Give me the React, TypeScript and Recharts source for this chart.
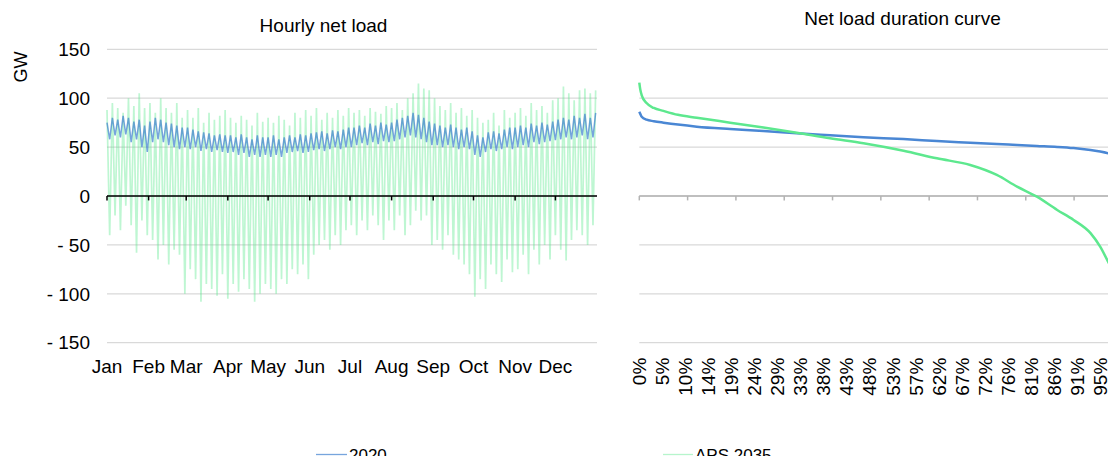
import { LineChart, Line, XAxis, YAxis, CartesianGrid, ReferenceLine } from "recharts";

const FONT = '"Liberation Sans", Arial, sans-serif';

const BLUE = "#4a87d4";
const GREEN = "#5de88e";

// --- hourly net load (one reading every 48 h, alternating daily peak / trough)
const months = ["Jan", "Feb", "Mar", "Apr", "May", "Jun", "Jul", "Aug", "Sep", "Oct", "Nov", "Dec"];
const monthStartHours = [0, 744, 1416, 2160, 2880, 3624, 4344, 5088, 5832, 6552, 7296, 8016];
const stepHours = 48;

const aps2035Hourly = [
  // Jan
  88, -40, 95, -20, 90, -35, 85, -10, 100, -30, 92, -58, 105, -25, 90, -40,
  // Feb
  95, -45, 85, -65, 100, -50, 90, -70, 85, -55, 95, -60, 80, -100,
  // Mar
  88, -75, 80, -85, 90, -108, 75, -90, 85, -95, 78, -102, 82, -80, 88,
  // Apr
  -105, 80, -90, 75, -98, 82, -85, 78, -95, 72, -108, 85, -100, 76, -90,
  // May
  80, -95, 75, -100, 82, -85, 78, -90, 72, -75, 85, -80, 80, -70, 88, -85,
  // Jun
  82, -60, 90, -50, 78, -45, 85, -55, 80, -40, 88, -50, 82, -35, 90,
  // Jul
  -30, 85, -40, 88, -25, 82, -35, 90, -20, 86, -30, 84, -45, 92, -25,
  // Aug
  90, -35, 95, -20, 88, -40, 100, -30, 105, -15, 115, -25, 110, -20, 108, -50,
  // Sep
  100, -45, 92, -55, 88, -40, 95, -60, 85, -65, 90, -70, 82, -80, 88,
  // Oct
  -103, 80, -85, 75, -95, 78, -70, 85, -80, 72, -88, 88, -65, 80, -78,
  // Nov
  85, -75, 90, -60, 82, -80, 95, -55, 88, -70, 92, -50, 85, -65, 98,
  // Dec
  -40, 100, -55, 112, -66, 105, -45, 98, -35, 108, -40, 110, -50, 105, -30, 108,
];

const net2020Hourly = [
  75, 58, 80, 62, 78, 60, 82, 63, 80, 55, 76, 58, 78, 50, 72, 45,
  76, 55, 80, 58, 78, 55, 75, 52, 74, 50, 72, 48, 70, 50,
  70, 48, 68, 50, 66, 46, 65, 48, 64, 45, 62, 47, 63, 45, 62,
  44, 62, 45, 60, 42, 63, 44, 60, 40, 58, 42, 62, 40, 60, 42,
  60, 40, 62, 42, 58, 40, 60, 44, 62, 45, 60, 46, 63, 44, 62, 45,
  64, 47, 65, 48, 66, 46, 64, 48, 67, 50, 66, 48, 68, 50, 70,
  50, 70, 52, 72, 54, 70, 52, 74, 55, 72, 53, 75, 56, 73, 55,
  75, 56, 78, 58, 80, 60, 82, 62, 85, 60, 83, 58, 80, 55, 76, 52,
  74, 52, 72, 50, 70, 52, 73, 50, 70, 48, 68, 50, 70, 48, 66,
  42, 62, 40, 60, 45, 65, 48, 66, 46, 64, 48, 68, 50, 70, 48,
  70, 50, 72, 52, 70, 50, 74, 55, 72, 53, 75, 55, 73, 56, 76,
  57, 78, 58, 80, 60, 78, 58, 82, 60, 80, 62, 84, 58, 80, 60, 85,
];

// --- duration curve (share of hours, sorted)
const durationPct = [0, 0.2, 0.5, 1.5, 3, 5, 8, 11.9, 18.8, 25.7, 32.6, 39.5, 46.4, 54.7, 61.6, 68.5, 74, 78.2, 82.3, 86.5, 89.9, 93.4, 95.4, 97.2, 98.8, 99.5, 100];
const apsDuration = [116, 109, 103, 95, 90, 87, 83, 80, 75, 70, 64.7, 59, 54, 46.3, 38.5, 31.7, 21.5, 9.5, -0.7, -14.3, -24.5, -38, -51.8, -68.8, -84, -96, -112];
const duration2020 = [86.2, 84, 81, 78, 76.5, 75, 73, 70.9, 68.5, 66.5, 64.1, 62, 60, 58.2, 56.2, 54.5, 53.2, 52.2, 51.2, 50.2, 49, 47, 45.5, 43.5, 40.9, 39, 36];

const pctLabels = ["0%", "5%", "10%", "14%", "19%", "24%", "29%", "33%", "38%", "43%", "48%", "53%", "57%", "62%", "67%", "72%", "76%", "81%", "86%", "91%", "95%"];
const pctTicks = pctLabels.map((_, i) => (i * 418 * 100) / 8760);
const pctMinorTicks = [0, 10, 20, 30, 40, 50, 60, 70, 80, 90, 100];

const yTicks = [-150, -100, -50, 0, 50, 100, 150];

const hourlyData = aps2035Hourly.map((v, i) => ({ h: i * stepHours, aps: v, y2020: net2020Hourly[i] }));
const durationData = durationPct.map((p, i) => ({ p, aps: apsDuration[i], y2020: duration2020[i] }));

const fmtGW = (v: number) => (v < 0 ? `- ${Math.abs(v)}` : `${v}`);

const PctTick = (props: any) => {
  const { x, y, index } = props;
  return (
    <text x={x} y={y} transform={`rotate(-90 ${x} ${y})`} textAnchor="end" dy="0.35em" fontSize={19} fill="#000" fontFamily={FONT}>
      {pctLabels[index]}
    </text>
  );
};

const tickStyle = { fontSize: 19, fill: "#000", fontFamily: FONT };

export default function App() {
  return (
    <div style={{ position: "relative", width: 1116, height: 464, margin: -8, overflow: "hidden", background: "#fff", fontFamily: FONT }}>
      <div style={{ position: "absolute", left: 0, top: 0 }}>
        <LineChart width={600} height={464} data={hourlyData} margin={{ top: 49.3, right: 3, bottom: 91.3, left: 0 }}>
          <CartesianGrid vertical={false} stroke="#d9d9d9" strokeWidth={1.3} />
          <XAxis
            type="number"
            dataKey="h"
            domain={[0, 8760]}
            ticks={monthStartHours}
            interval={0}
            tickFormatter={(v) => months[monthStartHours.indexOf(v)]}
            axisLine={false}
            tickLine={false}
            tickSize={0}
            tickMargin={17}
            height={30}
            tick={tickStyle}
          />
          <YAxis
            type="number"
            domain={[-150, 150]}
            ticks={yTicks}
            interval={0}
            tickFormatter={fmtGW}
            axisLine={false}
            tickLine={false}
            tickSize={0}
            tickMargin={17}
            width={107}
            tick={tickStyle}
          />
          <Line type="linear" dataKey="aps" stroke={GREEN} strokeOpacity={0.4} strokeWidth={1.7} dot={false} isAnimationActive={false} />
          <Line type="linear" dataKey="y2020" stroke="#3d7fcf" strokeOpacity={0.7} strokeWidth={1.5} dot={false} isAnimationActive={false} />
          <ReferenceLine y={0} stroke="#000" strokeWidth={1.5} />
          {monthStartHours.map((h) => (
            <ReferenceLine key={h} segment={[{ x: h, y: 0 }, { x: h, y: -4.5 }]} stroke="#000" strokeWidth={1.5} />
          ))}
        </LineChart>
      </div>

      <div style={{ position: "absolute", left: 600, top: 0 }}>
        <LineChart width={530} height={464} data={durationData} margin={{ top: 49.3, right: 7.6, bottom: 91.3, left: 39.3 }}>
          <CartesianGrid vertical={false} stroke="#d9d9d9" strokeWidth={1.3} />
          <XAxis
            type="number"
            dataKey="p"
            domain={[0, 100]}
            ticks={pctTicks}
            interval={0}
            axisLine={false}
            tickLine={false}
            tickSize={0}
            tickMargin={15}
            height={30}
            tick={<PctTick />}
          />
          <YAxis hide type="number" domain={[-150, 150]} ticks={yTicks} interval={0} />
          <ReferenceLine y={0} stroke="#b3b3b3" strokeWidth={1.5} />
          {pctMinorTicks.map((p) => (
            <ReferenceLine key={p} segment={[{ x: p, y: 0 }, { x: p, y: -4.5 }]} stroke="#b3b3b3" strokeWidth={1.5} />
          ))}
          <Line type="monotone" dataKey="y2020" stroke={BLUE} strokeWidth={2.5} dot={false} isAnimationActive={false} />
          <Line type="monotone" dataKey="aps" stroke={GREEN} strokeWidth={2.5} dot={false} isAnimationActive={false} />
        </LineChart>
      </div>

      <svg width={1116} height={464} style={{ position: "absolute", left: 0, top: 0, pointerEvents: "none" }} fontFamily={FONT}>
        <text x={323.5} y={31.7} textAnchor="middle" fontSize={19} fill="#000">Hourly net load</text>
        <text x={902.5} y={25} textAnchor="middle" fontSize={19} fill="#000">Net load duration curve</text>
        <text x={26.7} y={67} transform="rotate(-90 26.7 67)" textAnchor="middle" fontSize={18} fill="#000">GW</text>
        <line x1={316} x2={347} y1={454.5} y2={454.5} stroke="#3d7fcf" strokeOpacity={0.7} strokeWidth={1.3} />
        <text x={349} y={460.5} fontSize={17} fill="#000">2020</text>
        <line x1={663} x2={693} y1={454.5} y2={454.5} stroke={GREEN} strokeOpacity={0.45} strokeWidth={1.3} />
        <text x={695} y={460.5} fontSize={17} fill="#000">APS 2035</text>
      </svg>
    </div>
  );
}
